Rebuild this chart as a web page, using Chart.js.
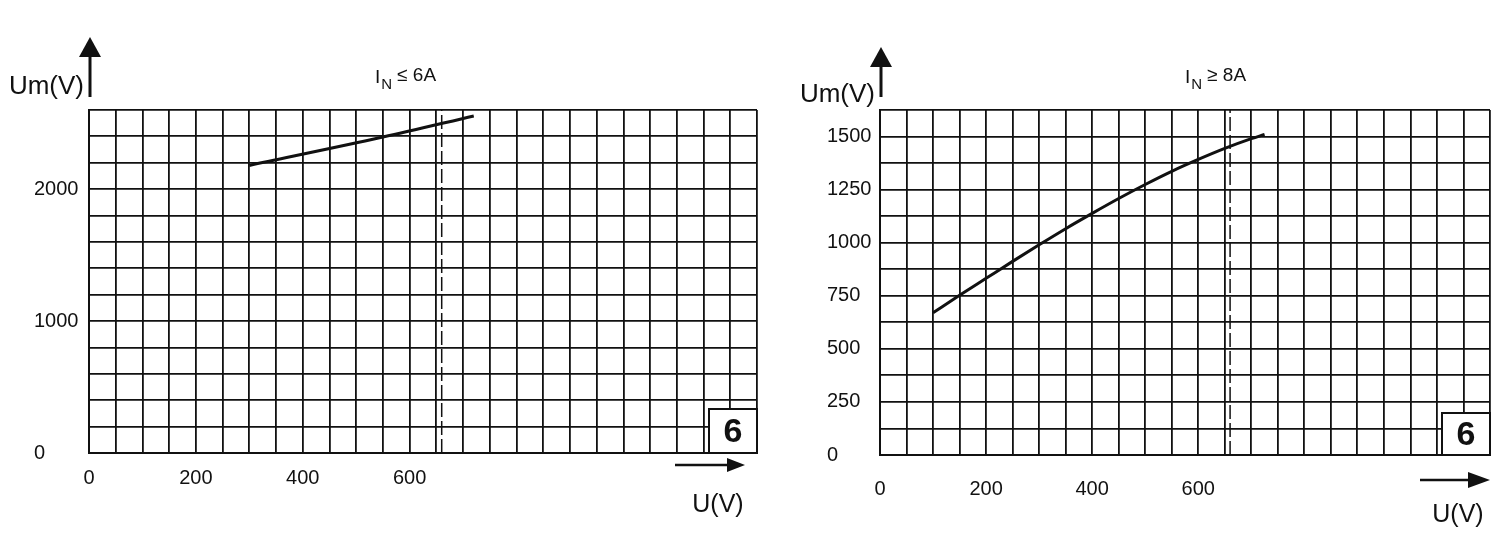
<!DOCTYPE html>
<html>
<head>
<meta charset="utf-8">
<script src="https://cdn.jsdelivr.net/npm/chart.js@4.4.1/dist/chart.umd.min.js"></script>
<style>
html, body { margin: 0; padding: 0; background: #fff; overflow: hidden; }
#wrap { position: relative; width: 1500px; height: 538px; }
.pane { position: absolute; top: 0; height: 538px; }
</style>
</head>
<body>
<div id="wrap">
  <div class="pane" style="left:0;width:780px"><canvas id="left"></canvas></div>
  <div class="pane" style="left:780px;width:720px"><canvas id="right"></canvas></div>
</div>
<script>
// left graph, I_N <= 6A
const leftU = [300, 550, 720];
const leftUm = [2180, 2395, 2555];
const leftXMax = 1250;
const leftYMax = 2600;
const leftXLabels = [0, 200, 400, 600];
const leftYLabels = [0, 1000, 2000];

// right graph, I_N >= 8A
const rightU = [100, 150, 200, 250, 300, 350, 400, 450, 500, 550, 600, 650, 700, 725];
const rightUm = [670, 752, 832, 912, 990, 1066, 1138, 1208, 1274, 1336, 1392, 1444, 1490, 1510];
const rightXMax = 1150;
const rightYMax = 1625;
const rightXLabels = [0, 200, 400, 600];
const rightYLabels = [0, 250, 500, 750, 1000, 1250, 1500];

// dashed marker for rated voltage
const ratedU = 660;

const FONT = '"Liberation Sans", Arial, sans-serif';
const INK = '#111';
Chart.defaults.font.family = FONT;
Chart.defaults.color = INK;

// arrows, axis names, title with subscript, the "6" box
const deco = {
  id: 'deco',
  afterDraw(chart, args, o) {
    const ctx = chart.ctx;
    const ca = chart.chartArea;
    const ax = ca.left + 1;
    ctx.save();
    ctx.fillStyle = INK;
    ctx.strokeStyle = INK;

    // vertical arrow
    ctx.lineWidth = 3;
    ctx.beginPath();
    ctx.moveTo(ax, o.arrowBottom);
    ctx.lineTo(ax, o.arrowTop + 16);
    ctx.stroke();
    ctx.beginPath();
    ctx.moveTo(ax, o.arrowTop);
    ctx.lineTo(ax - 11, o.arrowTop + 20);
    ctx.lineTo(ax + 11, o.arrowTop + 20);
    ctx.closePath();
    ctx.fill();

    // Um(V)
    ctx.font = '26px ' + FONT;
    ctx.textAlign = 'right';
    ctx.textBaseline = 'alphabetic';
    ctx.fillText('Um(V)', ca.left - 5, o.umY);

    // title  I_N <= 6A
    ctx.textAlign = 'left';
    ctx.font = '19px ' + FONT;
    let x = o.titleX;
    ctx.fillText('I', x, 83);
    x += ctx.measureText('I').width + 1;
    ctx.font = '15px ' + FONT;
    ctx.fillText('N', x, 89);
    x += ctx.measureText('N').width + 5;
    ctx.font = '19px ' + FONT;
    ctx.fillText(o.title, x, 81);

    // horizontal arrow
    ctx.lineWidth = 2.5;
    ctx.beginPath();
    ctx.moveTo(o.hx1, o.hy);
    ctx.lineTo(o.hx2 - o.head, o.hy);
    ctx.stroke();
    ctx.beginPath();
    ctx.moveTo(o.hx2, o.hy);
    ctx.lineTo(o.hx2 - o.head, o.hy - o.headH);
    ctx.lineTo(o.hx2 - o.head, o.hy + o.headH);
    ctx.closePath();
    ctx.fill();

    // U(V)
    ctx.font = '25px ' + FONT;
    ctx.textAlign = 'center';
    ctx.fillText('U(V)', o.ux, o.uy);

    // box with 6
    const bw = 48, bh = o.boxH;
    const bx = ca.right - bw, by = ca.bottom - bh;
    ctx.fillStyle = '#fff';
    ctx.fillRect(bx, by, bw, bh);
    ctx.lineWidth = 2;
    ctx.strokeRect(bx, by, bw, bh);
    ctx.fillStyle = INK;
    ctx.font = 'bold 34px ' + FONT;
    ctx.textAlign = 'center';
    ctx.textBaseline = 'middle';
    ctx.fillText('6', bx + bw / 2, by + bh / 2 + 2);
    ctx.restore();
  }
};

function makeChart(id, cfg) {
  const curve = cfg.u.map((u, i) => ({ x: u, y: cfg.um[i] }));
  return new Chart(document.getElementById(id), {
    type: 'scatter',
    data: {
      datasets: [
        {
          data: curve,
          showLine: true,
          borderColor: INK,
          borderWidth: 3,
          pointRadius: 0,
          cubicInterpolationMode: 'monotone'
        },
        {
          data: [{ x: ratedU, y: 0 }, { x: ratedU, y: cfg.yMax }],
          showLine: true,
          borderColor: INK,
          borderWidth: 1.5,
          borderDash: [14, 4],
          pointRadius: 0
        }
      ]
    },
    options: {
      responsive: true,
      maintainAspectRatio: false,
      animation: false,
      layout: { padding: cfg.padding },
      plugins: {
        legend: { display: false },
        tooltip: { enabled: false },
        deco: cfg.deco
      },
      scales: {
        x: {
          type: 'linear',
          min: 0,
          max: cfg.xMax,
          // fixed height, and no extra side padding from the label gap
          afterFit: s => { s.height = cfg.xHeight; s.paddingLeft = 0; s.paddingRight = 0; },
          grid: { color: INK, lineWidth: 1.8, drawTicks: false },
          border: { color: INK, width: 2 },
          ticks: {
            stepSize: 50,
            autoSkip: false,
            maxRotation: 0,
            padding: cfg.xPad,
            font: { size: 20 },
            callback: v => cfg.xLabels.includes(v) ? String(v) : ''
          }
        },
        y: {
          min: 0,
          max: cfg.yMax,
          afterFit: s => { s.width = cfg.yWidth; },
          grid: { color: INK, lineWidth: 1.8, drawTicks: false },
          border: { color: INK, width: 2 },
          ticks: {
            stepSize: cfg.yStep,
            autoSkip: false,
            crossAlign: 'far',
            font: { size: 20 },
            callback: v => cfg.yLabels.includes(v) ? String(v) : ''
          }
        }
      }
    },
    plugins: [deco]
  });
}

makeChart('left', {
  u: leftU, um: leftUm,
  xMax: leftXMax, yMax: leftYMax, yStep: 200,
  xLabels: leftXLabels, yLabels: leftYLabels,
  padding: { left: 34, right: 23, top: 110, bottom: 0 },
  xHeight: 85, yWidth: 55, xPad: 13,
  deco: {
    arrowTop: 37, arrowBottom: 97, umY: 94,
    titleX: 375, title: '\u2264 6A',
    hx1: 675, hx2: 745, hy: 465, head: 18, headH: 7,
    ux: 718, uy: 512, boxH: 44
  }
});

makeChart('right', {
  u: rightU, um: rightUm,
  xMax: rightXMax, yMax: rightYMax, yStep: 125,
  xLabels: rightXLabels, yLabels: rightYLabels,
  padding: { left: 47, right: 10, top: 110, bottom: 0 },
  xHeight: 83, yWidth: 53, xPad: 22,
  deco: {
    arrowTop: 47, arrowBottom: 97, umY: 102,
    titleX: 405, title: '\u2265 8A',
    hx1: 640, hx2: 710, hy: 480, head: 22, headH: 8,
    ux: 678, uy: 522, boxH: 42
  }
});
</script>
</body>
</html>
